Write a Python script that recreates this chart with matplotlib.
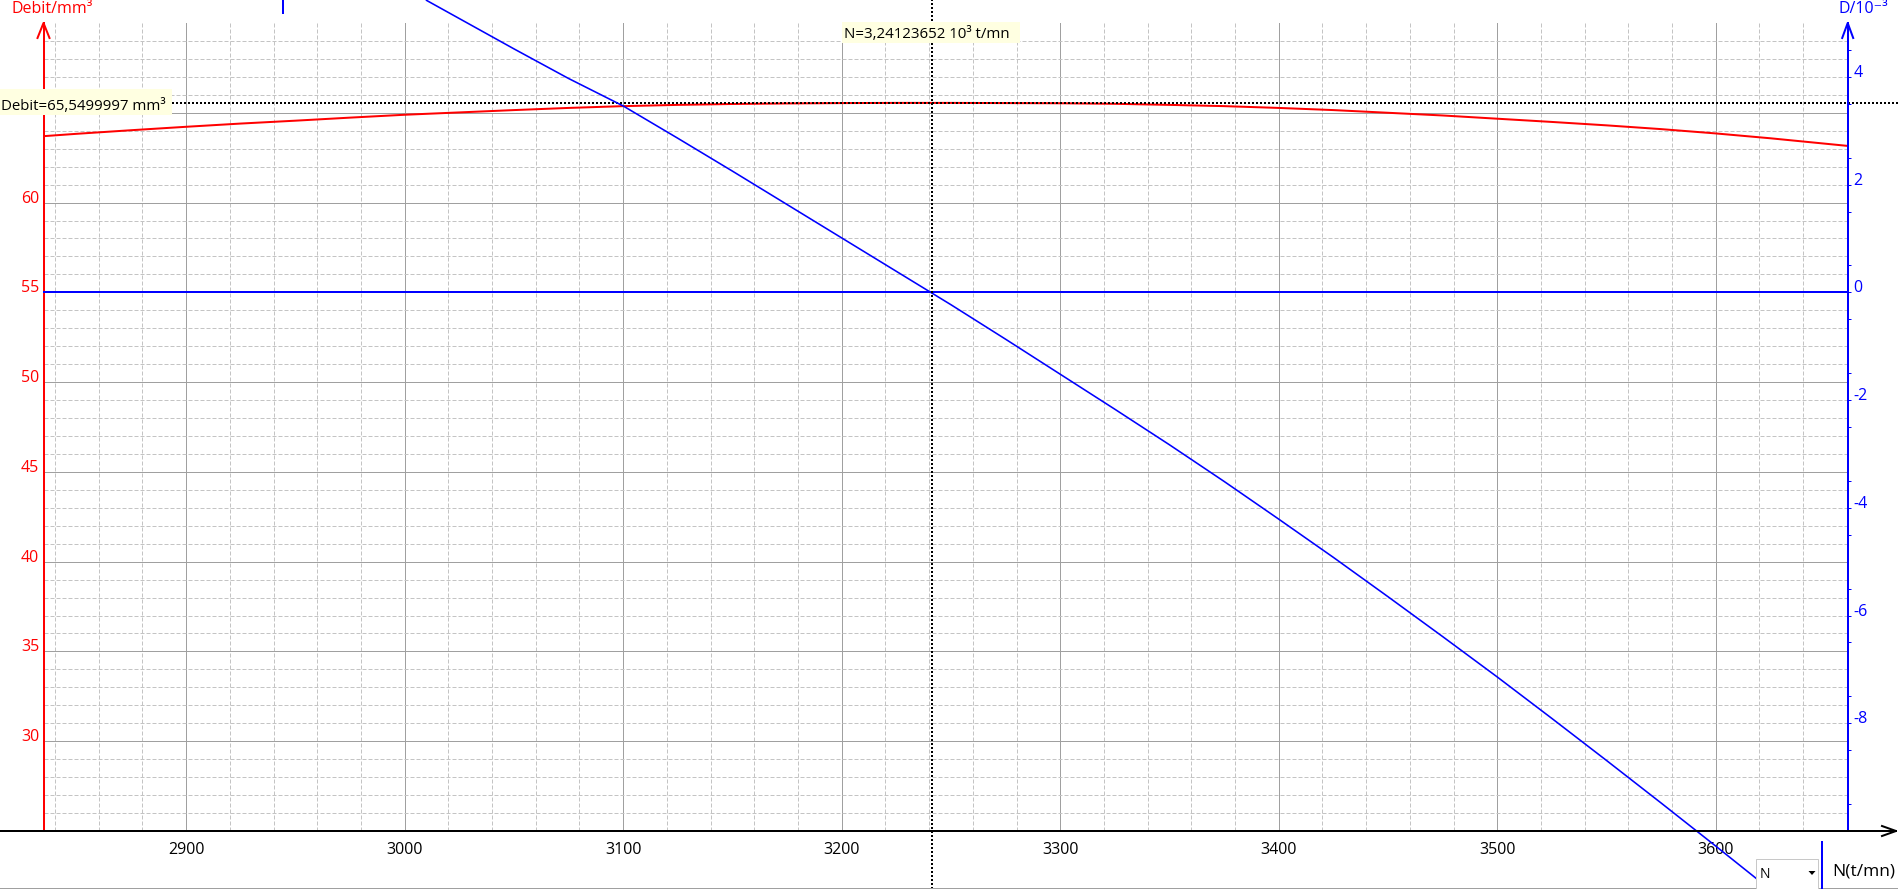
import matplotlib
matplotlib.use("Agg")
import matplotlib.pyplot as plt
import numpy as np
from matplotlib.lines import Line2D
from matplotlib.patches import Rectangle, Polygon
from matplotlib.transforms import Affine2D

# Debit (left axis, mm3) against rotation speed N (t/mn)
N_DEBIT = [2835, 2850, 2875, 2900, 2925, 2950, 2975, 3000, 3025, 3050, 3075,
           3100, 3125, 3150, 3175, 3200, 3225, 3250, 3275, 3300, 3325, 3350,
           3375, 3400, 3425, 3450, 3475, 3500, 3525, 3550, 3575, 3600, 3625,
           3650, 3660]
DEBIT = [63.70, 63.83, 64.03, 64.22, 64.40, 64.56, 64.73, 64.89, 65.02, 65.15,
         65.27, 65.37, 65.44, 65.49, 65.52, 65.54, 65.55, 65.55, 65.54, 65.53,
         65.50, 65.44, 65.37, 65.27, 65.15, 65.00, 64.85, 64.67, 64.49, 64.30,
         64.09, 63.85, 63.58, 63.28, 63.16]

# D (right axis, 10^-3)
N_D = [3010, 3030, 3050, 3075, 3100, 3125, 3150, 3175, 3200, 3225, 3250,
       3275, 3300, 3325, 3350, 3375, 3400, 3425, 3450, 3475, 3500, 3525,
       3550, 3575, 3600, 3625, 3650, 3660]
D = [5.42, 4.97, 4.52, 3.97, 3.46, 2.86, 2.25, 1.63, 1.01, 0.39, -0.23,
     -0.87, -1.52, -2.17, -2.83, -3.51, -4.21, -4.92, -5.65, -6.39, -7.14,
     -7.91, -8.69, -9.48, -10.28, -11.09, -11.91, -12.24]

# cursor read-out
N_CURSOR = 3241.23652
DEBIT_CURSOR = 65.5499997

X_TICKS = [2900, 3000, 3100, 3200, 3300, 3400, 3500, 3600]
DEBIT_TICKS = [30, 35, 40, 45, 50, 55, 60, 65]
DEBIT_LABELS = ['30', '35', '40', '45', '50', '55', '60', '']  # 65 hidden by read-out box
D_TICKS = [-8, -6, -4, -2, 0, 2, 4]

W, H = 1898, 889
PT = 0.72  # one pixel in points at 100 dpi
FS = 11.5

plt.rcParams['font.family'] = ['Open Sans', 'DejaVu Sans']
plt.rcParams['axes.unicode_minus'] = False

fig = plt.figure(figsize=(W / 100, H / 100), dpi=100, facecolor='white')
# pixel coords of the reference, origin top-left
PX = Affine2D().scale(1 / W, -1 / H).translate(0, 1) + fig.transFigure

AX_L, AX_R, AX_T, AX_B = 43.5, 1847.7, 23, 831
ax = fig.add_axes([AX_L / W, 1 - AX_B / H, (AX_R - AX_L) / W, (AX_B - AX_T) / H])
ax2 = ax.twinx()

ax.set_xlim(2834.7, 3660.4)
ax.set_ylim(25, 70)
ax2.set_ylim(-10, 5)

# grid
ax.set_xticks(X_TICKS)
ax.set_xticks([n for n in range(2840, 3661, 20) if n % 100], minor=True)
ax.set_yticks(DEBIT_TICKS, labels=DEBIT_LABELS)
ax.set_yticks([v for v in range(26, 70) if v % 5], minor=True)
ax.grid(which='major', color='#A0A0A0', lw=PT, ls='-')
ax.grid(which='minor', color='#C4C4C4', lw=PT, ls=(0, (4, 2)))

# spines
for s in ['top', 'right', 'bottom']:
    ax.spines[s].set_visible(False)
for s in ['top', 'left', 'bottom']:
    ax2.spines[s].set_visible(False)
ax.spines['left'].set_color('red')
ax.spines['left'].set_linewidth(2 * PT)
ax2.spines['right'].set_color('blue')
ax2.spines['right'].set_linewidth(2 * PT)

# ticks
ax.tick_params(axis='x', which='both', length=0, pad=8, labelsize=FS, labelcolor='black')
ax.tick_params(axis='y', which='both', length=0, pad=3, labelsize=FS, labelcolor='red')
for lab in ax.get_yticklabels():
    lab.set_verticalalignment('baseline')

ax2.set_yticks(D_TICKS, labels=[str(v) for v in D_TICKS])
ax2.set_yticks(np.arange(-9.5, 5, 1.0), minor=True)
ax2.tick_params(axis='y', which='both', direction='out', length=3 * PT, width=PT,
                color='blue', labelcolor='blue', pad=2, labelsize=FS)
for lab in ax2.get_yticklabels():
    lab.set_verticalalignment('baseline')

# curves
ax.plot(N_DEBIT, DEBIT, color='red', lw=2 * PT, zorder=3)
ax2.axhline(0, color='blue', lw=2 * PT, zorder=2)
ax2.plot(N_D, D, color='blue', lw=1.6 * PT, clip_on=False, zorder=3)

# cursor cross
ax.axhline(DEBIT_CURSOR, xmin=-AX_L / (AX_R - AX_L), xmax=(W - AX_L) / (AX_R - AX_L),
           color='black', lw=2 * PT, ls=(0, (1, 1)), clip_on=False, zorder=5)
ax2.axvline(N_CURSOR, ymin=-(H - AX_B) / (AX_B - AX_T), ymax=1 + AX_T / (AX_B - AX_T),
            color='black', lw=2 * PT, ls=(0, (1, 1)), clip_on=False, zorder=5)

# axis lines with arrow heads
fig.lines.append(Line2D([0, W - 2], [AX_B, AX_B], transform=PX, color='black', lw=2 * PT, zorder=4))
fig.lines.append(Line2D([W - 16, W - 2, W - 16], [AX_B - 5, AX_B, AX_B + 5], transform=PX,
                        color='black', lw=2 * PT, zorder=4))
fig.lines.append(Line2D([AX_L - 6, AX_L, AX_L + 6], [AX_T + 15, AX_T, AX_T + 15], transform=PX,
                        color='red', lw=2 * PT, zorder=4))
fig.lines.append(Line2D([AX_R - 5.5, AX_R, AX_R + 5.5], [AX_T + 15, AX_T, AX_T + 15], transform=PX,
                        color='blue', lw=2 * PT, zorder=4))

# axis titles
fig.text(12, 12.7, 'Debit/mm³', transform=PX, color='red', fontsize=FS, va='baseline')
fig.text(1839, 12.7, 'D/10⁻³', transform=PX, color='blue', fontsize=FS, va='baseline')

# read-out boxes
debit_txt = 'Debit=' + f'{DEBIT_CURSOR:.7f}'.replace('.', ',') + ' mm³'
n_txt = 'N=' + f'{N_CURSOR / 1000:.8f}'.replace('.', ',') + ' 10³ t/mn'
fig.patches.append(Rectangle((0, 89), 172, 26, transform=PX, facecolor='#FFFFE1',
                             edgecolor='none', zorder=10))
fig.text(1, 110.5, debit_txt, transform=PX, fontsize=10.8, va='baseline', zorder=11)
fig.patches.append(Rectangle((842, 22), 178, 21, transform=PX, facecolor='#FFFFE1',
                             edgecolor='none', zorder=10))
fig.text(844, 38.5, n_txt, transform=PX, fontsize=10.8, va='baseline', zorder=11)

# small window bits at the bottom
fig.lines.append(Line2D([0, W], [887.5, 887.5], transform=PX, color='#A0A0A0', lw=PT, zorder=10))
fig.lines.append(Line2D([283.5, 283.5], [0, 13], transform=PX, color='blue', lw=2 * PT, zorder=10))
fig.patches.append(Rectangle((1756, 859), 62, 30, transform=PX, facecolor='white',
                             edgecolor='#C8C8C8', lw=PT, zorder=10))
fig.text(1760, 878, 'N', transform=PX, fontsize=10, va='baseline', zorder=11)
fig.patches.append(Polygon([[1808.5, 871], [1815.5, 871], [1812, 875]], closed=True,
                           transform=PX, facecolor='black', edgecolor='none', zorder=11))
fig.lines.append(Line2D([1822, 1822], [842, H], transform=PX, color='blue', lw=2 * PT, zorder=10))
fig.text(1832, 876, 'N(t/mn)', transform=PX, fontsize=FS + 1, va='baseline', zorder=11)

fig.savefig('out.png', dpi=100, facecolor='white')
